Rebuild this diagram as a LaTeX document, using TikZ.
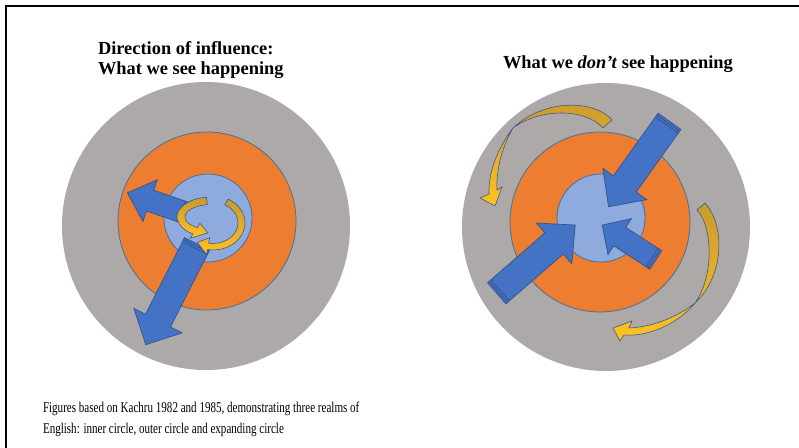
\documentclass[tikz,border=0pt]{standalone}
\usepackage{fontspec}
\setmainfont{Liberation Serif}
\newfontfamily\notefont{Liberation Serif}[FakeStretch=0.74]
\usepackage{tikz}

\definecolor{ringgray}{HTML}{ADA9A9}
\definecolor{ringorange}{HTML}{ED7D31}
\definecolor{ringblue}{HTML}{8FAADC}
\definecolor{ringline}{HTML}{41719C}
\definecolor{arrowblue}{HTML}{4472C4}
\definecolor{arrowline}{HTML}{2F528F}
\definecolor{golddark}{HTML}{C99A2E}
\definecolor{goldlight}{HTML}{FFC21F}

% #1 tail, #2 angle, #3 length, #4 shaft width, #5 head width, #6 head length
\newcommand{\stripedarrow}[6]{%
  \begin{scope}[shift={#1}, rotate=#2]
    \path[block] (0,-#4/2) -- (#3-#6,-#4/2) -- (#3-#6,-#5/2) -- (#3,0)
      -- (#3-#6,#5/2) -- (#3-#6,#4/2) -- (0,#4/2) -- cycle;
    \draw[stripe] (2.2,-#4/2) -- (2.2,#4/2) (4.6,-#4/2) -- (4.6,#4/2);
  \end{scope}}

\begin{document}
\begin{tikzpicture}[x=0.75pt, y=0.75pt,
    outer/.style={fill=ringgray},
    middle/.style={fill=ringorange, draw=ringline, line width=0.6pt},
    inner/.style={fill=ringblue, draw=ringline, line width=0.6pt},
    block/.style={fill=arrowblue, draw=arrowline, line width=0.5pt, line join=miter},
    stripe/.style={draw=arrowline, line width=0.5pt},
    swirl/.style={top color=golddark, bottom color=goldlight, draw=arrowline, line width=0.4pt},
    every node/.append style={inner sep=0pt, outer sep=0pt}]
  \tikzstyle{ttl} = [font=\fontsize{13.8}{16}\selectfont\bfseries, anchor=base west]
  \tikzstyle{note} = [font=\notefont\fontsize{11.2}{13}\selectfont, anchor=base west]

  \useasboundingbox (0,0) rectangle (799,-448);
  \fill[white] (0,0) rectangle (799,-448);
  \draw[line width=1.9pt] (6,-470) -- (6,-6) -- (820,-6);

  \node[ttl] (seeA) at (98,-55) {Direction of influence:};
  \node[ttl] (seeB) at (98,-75) {What we see happening};
  \node[ttl] (dontsee) at (503,-69) {What we \textit{don’t} see happening};

  % what we see: outward
  \fill[outer] (206,-226) circle (144);
  \path[middle] (207,-221) circle (89);
  \path[inner] (208,-218) circle (44);
  \stripedarrow{(186,-213)}{161}{62}{22}{44}{24}
  \stripedarrow{(197,-244)}{243}{113}{28}{54}{27}
  \begin{scope}[shift={(211,-217)}]
    \path[swirl] (98:34 and 20) arc[start angle=98, end angle=238, x radius=34, y radius=20]
      -- (238:39 and 25) -- (264:30 and 16) -- (238:21 and 7.5) -- (238:26 and 12.5)
      arc[start angle=238, end angle=98, x radius=26, y radius=12.5] -- cycle;
  \end{scope}
  \begin{scope}[shift={(213,-223)}]
    \path[swirl] (62:32 and 27) arc[start angle=62, end angle=-100, x radius=32, y radius=27]
      -- (-100:37 and 32) -- (-124:28 and 23.5) -- (-100:19 and 15) -- (-100:25 and 20.5)
      arc[start angle=-100, end angle=62, x radius=25, y radius=20.5] -- cycle;
  \end{scope}

  % what we don't see: inward
  \fill[outer] (606,-227) circle (144);
  \path[middle] (600,-222) circle (90);
  \path[inner] (601,-218) circle (44);
  \stripedarrow{(669.5,-121.3)}{234.5}{105}{28}{54}{28}
  \stripedarrow{(496.7,-293.3)}{41}{104}{28}{54}{28}
  \stripedarrow{(655.8,-260)}{147}{64}{22}{43}{21}
  \path[swirl] (612,-120) .. controls (595,-100) and (545,-98) .. (513,-128)
    .. controls (500,-145) and (488,-170) .. (489,-194)
    -- (480,-198) -- (495,-206) -- (502,-187) -- (497,-190)
    .. controls (496,-168) and (503,-145) .. (513,-128)
    .. controls (540,-108) and (585,-108) .. (603,-128) -- cycle;
  \path[swirl] (705,-203) .. controls (725,-225) and (725,-275) .. (695,-303)
    .. controls (680,-322) and (650,-337) .. (624,-335)
    -- (620,-341) -- (613,-328) -- (632,-321) -- (629,-328)
    .. controls (655,-327) and (680,-315) .. (695,-303)
    .. controls (715,-275) and (712,-225) .. (697,-210) -- cycle;

  \node[note] (noteA) at (43,-412) {Figures based on Kachru 1982 and 1985, demonstrating three realms of};
  \node[note] (noteB) at (43,-434) {English: inner circle, outer circle and expanding circle};
\end{tikzpicture}
\end{document}
